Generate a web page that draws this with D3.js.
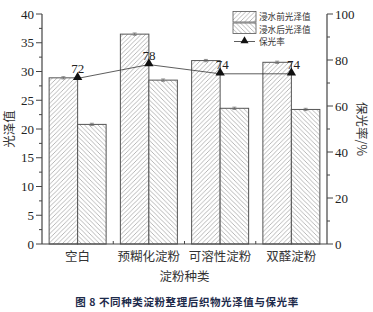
<!DOCTYPE html>
<html>
<head>
<meta charset="utf-8">
<script src="https://cdn.jsdelivr.net/npm/d3@7"></script>
<style>
  body { margin: 0; background: #fff; }
  svg { display: block; }
  .tk { font-family: "Liberation Serif", "DejaVu Serif", serif; font-size: 13px; fill: #222; }
  .cn { font-family: "Noto Sans CJK SC", sans-serif; fill: #333; }
</style>
</head>
<body>
<div id="chart"></div>
<script>
// data
const cats = ['空白', '预糊化淀粉', '可溶性淀粉', '双醛淀粉']
const before = [28.9, 36.5, 31.9, 31.6]
const after = [20.8, 28.5, 23.6, 23.4]
const errBefore = [0.2, 0.2, 0.2, 0.2]
const errAfter = [0.2, 0.2, 0.2, 0.2]
const keep = [72, 78, 74, 74]
const leftTicks = [0, 5, 10, 15, 20, 25, 30, 35, 40]
const rightTicks = [0, 20, 40, 60, 80, 100]
const legendNames = ['浸水前光泽值', '浸水后光泽值', '保光率']

const W = 373, H = 312
const m = { l: 42, r: 327, t: 14, b: 244 }

const svg = d3.select('#chart').append('svg').attr('width', W).attr('height', H)

// hatch patterns
const defs = svg.append('defs')
function hatch(id, dir) {
  const p = defs.append('pattern').attr('id', id).attr('patternUnits', 'userSpaceOnUse')
    .attr('width', 4.5).attr('height', 4.5)
  p.append('rect').attr('width', 4.5).attr('height', 4.5).attr('fill', '#fff')
  if (dir > 0) {
    p.append('path').attr('d', 'M-1,1 l2,-2 M0,4.5 l4.5,-4.5 M3.5,5.5 l2,-2')
  } else {
    p.append('path').attr('d', 'M-1,3.5 l2,2 M0,0 l4.5,4.5 M3.5,-1 l2,2')
  }
  p.select('path').attr('stroke', '#888').attr('stroke-width', 0.6)
}
hatch('hb', 1)
hatch('ha', -1)

var x = d3.scaleBand().domain(cats).range([m.l, m.r]).paddingInner(0.2).paddingOuter(0.1)
var x1 = d3.scaleBand().domain([0, 1]).range([0, x.bandwidth()])
var y = d3.scaleLinear().domain([0, 40]).range([m.b, m.t])
var y2 = d3.scaleLinear().domain([0, 100]).range([m.b, m.t])

// bars
const series = [before, after]
const errs = [errBefore, errAfter]
series.forEach((s, k) => {
  const g = svg.append('g')
  g.selectAll('rect').data(s).enter().append('rect')
    .attr('x', (d, i) => x(cats[i]) + x1(k))
    .attr('y', d => y(d))
    .attr('width', x1.bandwidth())
    .attr('height', d => y(0) - y(d))
    .attr('fill', k == 0 ? 'url(#hb)' : 'url(#ha)')
    .attr('stroke', '#555').attr('stroke-width', 1)
  // error bars
  g.selectAll('path.err').data(s).enter().append('path')
    .attr('d', (d, i) => {
      const cx = x(cats[i]) + x1(k) + x1.bandwidth() / 2
      const e = errs[k][i]
      return `M${cx - 2},${y(d + e)}h4M${cx},${y(d + e)}V${y(d - e)}M${cx - 2},${y(d - e)}h4`
    })
    .attr('stroke', '#666').attr('stroke-width', 0.7).attr('fill', 'none')
})

// axes
const ax = svg.append('g').attr('stroke', '#444').attr('stroke-width', 1.2)
ax.append('line').attr('x1', m.l).attr('x2', m.l).attr('y1', m.t).attr('y2', m.b)
ax.append('line').attr('x1', m.r).attr('x2', m.r).attr('y1', m.t).attr('y2', m.b)
ax.append('line').attr('x1', m.l).attr('x2', m.r).attr('y1', m.b).attr('y2', m.b)

// left ticks
d3.range(0, 40.1, 2.5).forEach(v => {
  const major = v % 5 == 0
  svg.append('line').attr('x1', m.l).attr('x2', m.l - (major ? 6 : 3))
    .attr('y1', y(v)).attr('y2', y(v)).attr('stroke', '#444').attr('stroke-width', 1)
})
svg.append('g').selectAll('text').data(leftTicks).enter().append('text')
  .attr('class', 'tk').attr('x', m.l - 8).attr('y', d => y(d)).attr('dy', '0.35em')
  .attr('text-anchor', 'end').text(d => d)

// right ticks
d3.range(0, 100.1, 10).forEach(v => {
  const major = v % 20 == 0
  svg.append('line').attr('x1', m.r).attr('x2', m.r + (major ? 6 : 3))
    .attr('y1', y2(v)).attr('y2', y2(v)).attr('stroke', '#444').attr('stroke-width', 1)
})
svg.append('g').selectAll('text').data(rightTicks).enter().append('text')
  .attr('class', 'tk').attr('x', m.r + 8).attr('y', d => y2(d)).attr('dy', '0.35em')
  .text(d => d)

// bottom small ticks between groups
cats.slice(1).forEach(c => {
  const bx = x(c) - x.step() * x.paddingInner() / 2
  svg.append('line').attr('x1', bx).attr('x2', bx).attr('y1', m.b).attr('y2', m.b - 3)
    .attr('stroke', '#444').attr('stroke-width', 1)
})

// category labels
svg.append('g').selectAll('text').data(cats).enter().append('text')
  .attr('class', 'cn').attr('font-size', 12.5)
  .attr('x', d => x(d) + x.bandwidth() / 2).attr('y', 261)
  .attr('text-anchor', 'middle').text(d => d)

svg.append('text').attr('class', 'cn').attr('font-size', 12.5)
  .attr('x', (m.l + m.r) / 2).attr('y', 281).attr('text-anchor', 'middle').text('淀粉种类')

svg.append('text').attr('class', 'cn').attr('font-size', 12.5)
  .attr('transform', `translate(14,${(m.t + m.b) / 2}) rotate(-90)`)
  .attr('text-anchor', 'middle').text('光泽值')

svg.append('text').attr('class', 'cn').attr('font-size', 12.5)
  .attr('transform', `translate(357,${(m.t + m.b) / 2}) rotate(90)`)
  .attr('text-anchor', 'middle').text('保光率/%')

// retention line
const pts = keep.map((d, i) => [x(cats[i]) + x.bandwidth() / 2, y2(d)])
svg.append('path').attr('d', d3.line()(pts)).attr('fill', 'none')
  .attr('stroke', '#333').attr('stroke-width', 0.8)
svg.append('g').selectAll('path').data(pts).enter().append('path')
  .attr('d', d3.symbol().type(d3.symbolTriangle).size(38))
  .attr('transform', d => `translate(${d[0]},${d[1] - 1})`).attr('fill', '#111')
svg.append('g').selectAll('text').data(keep).enter().append('text')
  .attr('class', 'tk').attr('font-size', 10)
  .attr('x', (d, i) => pts[i][0] + (i >= 2 ? 2 : 0)).attr('y', (d, i) => pts[i][1] - 5)
  .attr('text-anchor', 'middle').text(d => d)

// legend
const lg = svg.append('g').attr('transform', 'translate(233,11)')
;['url(#hb)', 'url(#ha)'].forEach((f, i) => {
  lg.append('rect').attr('x', 0).attr('y', i * 11.5 + 0.5).attr('width', 23).attr('height', 10.5)
    .attr('fill', f).attr('stroke', '#555').attr('stroke-width', 0.8)
})
lg.append('line').attr('x1', 1).attr('x2', 22).attr('y1', 30.5).attr('y2', 30.5)
  .attr('stroke', '#333').attr('stroke-width', 0.8)
lg.append('path').attr('d', d3.symbol().type(d3.symbolTriangle).size(28))
  .attr('transform', 'translate(11.5,30)').attr('fill', '#111')
lg.selectAll('text.lt').data(legendNames).enter().append('text')
  .attr('class', 'cn').attr('font-size', 8.6)
  .attr('x', 26).attr('y', (d, i) => i * 12.5 + 6).attr('dy', '0.35em').text(d => d)

// caption
svg.append('text').attr('class', 'cn').attr('font-size', 10.5).attr('font-weight', 'bold')
  .style('fill', '#1d2a4a').style('letter-spacing', '0.6px')
  .attr('x', 187).attr('y', 306).attr('text-anchor', 'middle')
  .text('图 8  不同种类淀粉整理后织物光泽值与保光率')
</script>
</body>
</html>
